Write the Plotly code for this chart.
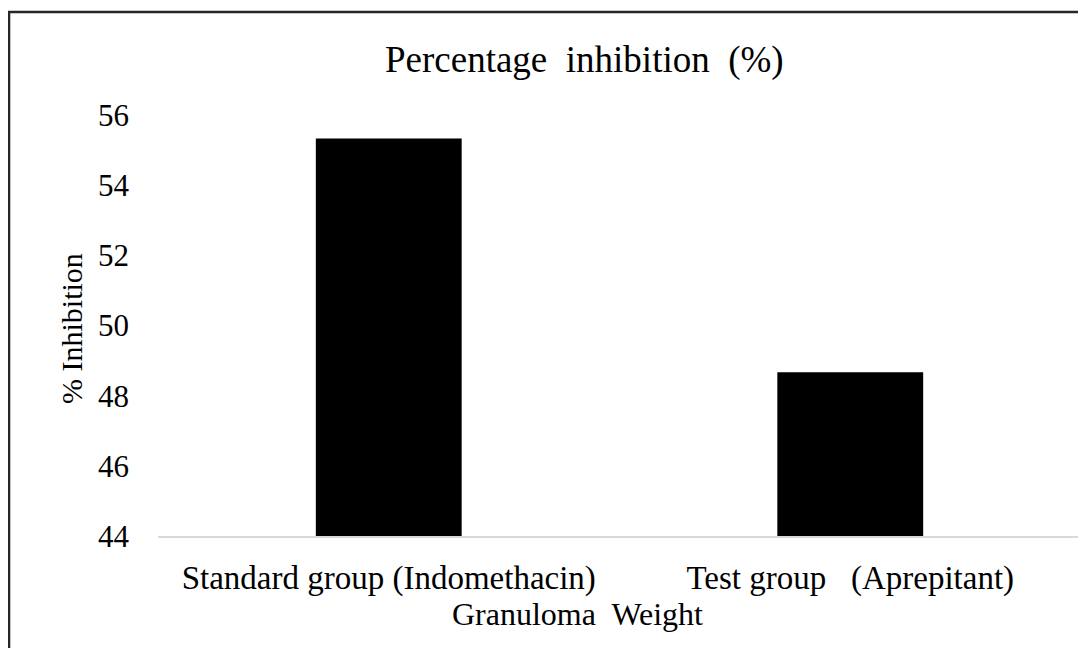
import plotly.graph_objects as go

categories = ["Standard group (Indomethacin)", "Test group   (Aprepitant)"]
values = [55.33, 48.67]
y_ticks = [44, 46, 48, 50, 52, 54, 56]

FONT = "Liberation Serif, Times New Roman, serif"

fig = go.Figure()
fig.add_trace(go.Bar(
    x=categories,
    y=values,
    marker=dict(color="#000000", line=dict(width=0)),
    width=0.316,
))

fig.update_layout(
    width=1086,
    height=648,
    margin=dict(l=150, r=13, t=107, b=120),
    paper_bgcolor="white",
    plot_bgcolor="white",
    showlegend=False,
    font=dict(family=FONT, color="#000000"),
    xaxis=dict(
        showgrid=False,
        showline=True,
        linecolor="#d9d9d9",
        linewidth=1.5,
        ticks="",
        tickfont=dict(family=FONT, size=33, color="#000000"),
        ticklabelstandoff=12,
    ),
    yaxis=dict(
        range=[44, 56],
        tickvals=y_ticks,
        showgrid=False,
        zeroline=False,
        showline=False,
        ticks="",
        tickfont=dict(family=FONT, size=31, color="#000000"),
        ticklabelstandoff=28,
    ),
    annotations=[
        dict(text="Percentage  inhibition  (%)", xref="paper", yref="paper",
             x=0.4626, y=1.13, xanchor="center", yanchor="middle",
             showarrow=False, font=dict(family=FONT, size=37, color="#000000")),
        dict(text="% Inhibition", xref="paper", yref="paper",
             x=-0.0943, y=0.494, xanchor="center", yanchor="middle",
             textangle=-90, showarrow=False,
             font=dict(family=FONT, size=30, color="#000000")),
        dict(text="Granuloma  Weight", xref="paper", yref="paper",
             x=0.455, y=-0.185, xanchor="center", yanchor="middle",
             showarrow=False, font=dict(family=FONT, size=32, color="#000000")),
    ],
    shapes=[
        dict(type="rect", xref="paper", yref="paper",
             x0=-0.1614, x1=1.03, y0=-0.30, y1=1.2447,
             line=dict(color="#262626", width=2.5), fillcolor="rgba(0,0,0,0)",
             layer="below"),
    ],
)

fig.write_html("out.html")
